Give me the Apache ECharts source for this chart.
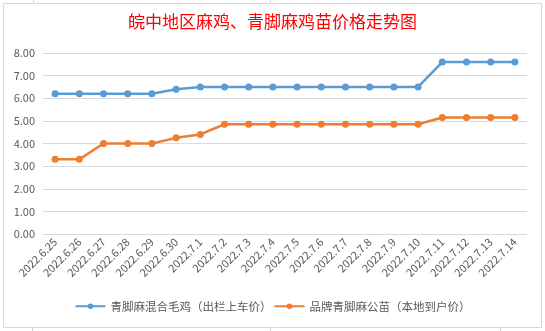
<!DOCTYPE html>
<html><head><meta charset="utf-8">
<script src="https://cdn.jsdelivr.net/npm/echarts@6/dist/echarts.min.js"></script>
<style>html,body{margin:0;padding:0;background:#fff;}#c{width:545px;height:331px;}</style>
</head><body><div id="c"></div>
<script>
const categories = ['2022.6.25','2022.6.26','2022.6.27','2022.6.28','2022.6.29','2022.6.30','2022.7.1','2022.7.2','2022.7.3','2022.7.4','2022.7.5','2022.7.6','2022.7.7','2022.7.8','2022.7.9','2022.7.10','2022.7.11','2022.7.12','2022.7.13','2022.7.14'];
const mixedChicken = [6.2,6.2,6.2,6.2,6.2,6.4,6.5,6.5,6.5,6.5,6.5,6.5,6.5,6.5,6.5,6.5,7.6,7.6,7.6,7.6];
const brandRooster = [3.3,3.3,4.0,4.0,4.0,4.25,4.4,4.85,4.85,4.85,4.85,4.85,4.85,4.85,4.85,4.85,5.15,5.15,5.15,5.15];
const seriesNames = ['青脚麻混合毛鸡（出栏上车价）','品牌青脚麻公苗（本地到户价）'];
const titleText = '皖中地区麻鸡、青脚麻鸡苗价格走势图';

const chart = echarts.init(document.getElementById('c'), null, {renderer:'canvas'});
const txt = '#595959';
const font = '"Noto Sans CJK SC","Noto Sans",sans-serif';
chart.setOption({
  animation:false,
  backgroundColor:'#fff',
  graphic:[
    {type:'rect',shape:{x:3.5,y:3.5,width:538,height:324},style:{fill:'none',stroke:'#d9d9d9',lineWidth:1},z:-1},
    {type:'line',shape:{x1:33.5,y1:0,x2:33.5,y2:3},style:{stroke:'#d0d4e0'}},
    {type:'line',shape:{x1:270.5,y1:0,x2:270.5,y2:3},style:{stroke:'#d0d4e0'}},
    {type:'line',shape:{x1:32.5,y1:328,x2:32.5,y2:331},style:{stroke:'#d0d4e0'}},
    {type:'line',shape:{x1:270.5,y1:328,x2:270.5,y2:331},style:{stroke:'#d0d4e0'}},
    {type:'line',shape:{x1:500.5,y1:328,x2:500.5,y2:331},style:{stroke:'#d0d4e0'}}
  ],
  title:{text:titleText,left:'center',top:8,textStyle:{color:'#ff0000',fontSize:17,fontWeight:'normal',fontFamily:font}},
  grid:{left:43,right:18,top:53,bottom:97,containLabel:false},
  legend:{bottom:14,left:'center',itemWidth:30,itemHeight:7,itemGap:2,
    textStyle:{color:txt,fontSize:11.5,fontFamily:font},
    data:seriesNames},
  xAxis:{type:'category',data:categories,boundaryGap:true,
    axisLine:{show:false},axisTick:{show:false},
    axisLabel:{rotate:45,color:txt,fontSize:11,fontFamily:font,interval:0,margin:6}},
  yAxis:{type:'value',min:0,max:8,interval:1,
    axisLine:{show:false},axisTick:{show:false},
    axisLabel:{color:txt,fontSize:11,fontFamily:font,formatter:v=>v.toFixed(2),margin:8},
    splitLine:{lineStyle:{color:'#d9d9d9',width:1}}},
  series:[
    {name:seriesNames[0],type:'line',data:mixedChicken,symbol:'circle',symbolSize:7,
      itemStyle:{color:'#5b9bd5'},lineStyle:{color:'#5b9bd5',width:2.5}},
    {name:seriesNames[1],type:'line',data:brandRooster,symbol:'circle',symbolSize:7,
      itemStyle:{color:'#ed7d31'},lineStyle:{color:'#ed7d31',width:2.5}}
  ]
});
</script></body></html>
